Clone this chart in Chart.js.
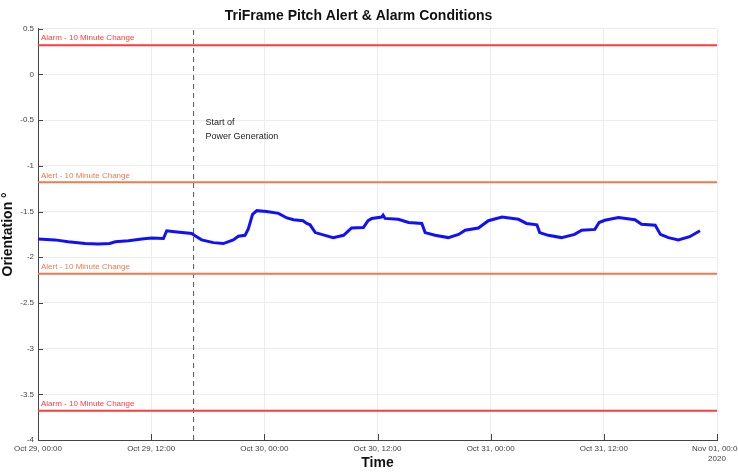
<!DOCTYPE html>
<html>
<head>
<meta charset="utf-8">
<script src="https://cdn.jsdelivr.net/npm/chart.js@4"></script>
<style>
  html, body { margin: 0; padding: 0; background: #fff; }
  #wrap { width: 738px; height: 472px; }
</style>
</head>
<body>
<div id="wrap"><canvas id="chart-0" width="738" height="472"></canvas></div>
<script>
// hours since Oct 29 2020, 00:00
const hours = [0, 1.8, 3.2, 5.0, 6.4, 7.6, 8.2, 9.6, 11.0, 12.05, 13.3, 13.65, 14.5, 16.3, 16.65, 17.35,
  18.6, 19.65, 20.7, 21.25, 21.95, 22.3, 22.75, 23.2, 24.25, 25.5, 26.4, 27.1, 28.1, 28.5, 28.85, 29.4,
  30.25, 31.3, 32.4, 33.25, 34.5, 35.0, 35.4, 36.45, 36.6, 36.8, 38.2, 39.3, 40.7, 41.05, 42.1, 43.5,
  44.6, 45.3, 46.7, 47.75, 49.2, 50.95, 51.8, 52.9, 53.2, 54.1, 55.5, 56.9, 57.65, 59.05, 59.5, 60.1,
  61.55, 63.3, 64.0, 65.45, 66.0, 66.85, 67.9, 69.1, 70.2];
const pitch = [-1.80, -1.81, -1.83, -1.85, -1.855, -1.85, -1.83, -1.82, -1.80, -1.79, -1.795, -1.71, -1.72, -1.74, -1.765, -1.81,
  -1.84, -1.85, -1.81, -1.77, -1.76, -1.69, -1.53, -1.49, -1.50, -1.52, -1.57, -1.59, -1.60, -1.63, -1.645, -1.73,
  -1.755, -1.785, -1.76, -1.68, -1.675, -1.60, -1.575, -1.56, -1.54, -1.575, -1.585, -1.62, -1.63, -1.73, -1.76, -1.785,
  -1.75, -1.705, -1.68, -1.60, -1.56, -1.585, -1.63, -1.645, -1.73, -1.76, -1.785, -1.75, -1.705, -1.695, -1.62, -1.595,
  -1.565, -1.59, -1.64, -1.65, -1.75, -1.785, -1.81, -1.775, -1.71];

const thresholdLabels = ['Alarm - 10 Minute Change', 'Alert - 10 Minute Change', 'Alert - 10 Minute Change', 'Alarm - 10 Minute Change'];
const thresholdValues = [0.32, -1.18, -2.18, -3.68];
const thresholdColors = ['#ff3b3b', '#ef7a4f', '#ef7a4f', '#ff3b3b'];

const startHour = 16.5;
const startLabel = ['Start of', 'Power Generation'];

const xTickLabels = ['Oct 29, 00:00', 'Oct 29, 12:00', 'Oct 30, 00:00', 'Oct 30, 12:00', 'Oct 31, 00:00', 'Oct 31, 12:00', ['Nov 01, 00:00', '2020']];
const xMin = 0, xMax = 72, yMin = -4, yMax = 0.5;

const font = 'Liberation Sans, Arial, sans-serif';

const thresholdSets = thresholdValues.map((v, i) => ({
  label: thresholdLabels[i],
  data: [{x: xMin, y: v}, {x: xMax, y: v}],
  borderColor: thresholdColors[i],
  borderWidth: 2,
  pointRadius: 0
}));

const overlayPlugin = {
  id: 'overlay',
  afterDatasetsDraw(chart) {
    const {ctx, scales: {x, y}, chartArea} = chart;
    ctx.save();
    // threshold captions
    ctx.font = `8px ${font}`;
    ctx.textBaseline = 'bottom';
    ctx.textAlign = 'left';
    thresholdValues.forEach((v, i) => {
      ctx.fillStyle = thresholdColors[i];
      ctx.fillText(thresholdLabels[i], chartArea.left + 3, y.getPixelForValue(v) - 3);
    });
    // start of power generation
    ctx.fillStyle = '#222';
    ctx.font = `9px ${font}`;
    ctx.textBaseline = 'middle';
    startLabel.forEach((t, i) => {
      ctx.fillText(t, x.getPixelForValue(startHour) + 12, y.getPixelForValue(-0.53) + i * 14);
    });
    // inward tick marks (matlab style)
    ctx.strokeStyle = '#444';
    ctx.lineWidth = 1;
    ctx.beginPath();
    for (let v = yMin; v <= yMax + 1e-9; v += 0.5) {
      const py = Math.round(y.getPixelForValue(v)) + 0.5;
      ctx.moveTo(chartArea.left, py);
      ctx.lineTo(chartArea.left + 5, py);
    }
    for (let h = xMin; h <= xMax; h += 12) {
      const px = Math.round(x.getPixelForValue(h)) + 0.5;
      ctx.moveTo(px, chartArea.bottom);
      ctx.lineTo(px, chartArea.bottom - 6);
    }
    ctx.stroke();
    ctx.restore();
  }
};

new Chart(document.getElementById('chart-0').getContext('2d'), {
  type: 'line',
  data: {
    datasets: [
      {
        label: 'Pitch',
        data: hours.map((h, i) => ({x: h, y: pitch[i]})),
        borderColor: '#1010ff',
        borderWidth: 3,
        pointRadius: 0,
        tension: 0
      },
      ...thresholdSets,
      {
        label: 'Start',
        data: [{x: startHour, y: yMin}, {x: startHour, y: yMax}],
        borderColor: '#555',
        borderWidth: 1,
        borderDash: [5, 4],
        pointRadius: 0
      }
    ]
  },
  options: {
    responsive: false,
    animation: false,
    layout: {padding: {left: 0, right: 21, top: 0, bottom: 0}},
    plugins: {
      legend: {display: false},
      tooltip: {enabled: false},
      title: {
        display: true,
        text: 'TriFrame Pitch Alert & Alarm Conditions',
        color: '#111',
        font: {family: font, size: 14, weight: 'bold'},
        padding: {top: 8, bottom: 4}
      }
    },
    scales: {
      x: {
        type: 'linear',
        min: xMin,
        max: xMax,
        afterFit(scale) { scale.height = 32; scale.paddingLeft = 0; scale.paddingRight = 0; },
        afterBuildTicks(scale) {
          scale.ticks = xTickLabels.map((_, i) => ({value: i * 12}));
        },
        ticks: {
          color: '#444',
          font: {family: font, size: 8},
          maxRotation: 0,
          padding: 4,
          callback: (v) => xTickLabels[Math.round(v / 12)]
        },
        grid: {color: '#ececec', drawTicks: false},
        border: {color: '#444'},
        title: {
          display: true,
          text: 'Time',
          color: '#111',
          font: {family: font, size: 14, weight: 'bold'},
          padding: {top: 0, bottom: 0}
        }
      },
      y: {
        min: yMin,
        max: yMax,
        afterFit(scale) { scale.width = 38; },
        ticks: {
          stepSize: 0.5,
          color: '#444',
          font: {family: font, size: 8},
          padding: 4,
          callback: (v) => String(v)
        },
        grid: {color: '#ececec', drawTicks: false},
        border: {color: '#444'},
        title: {
          display: true,
          text: 'Orientation °',
          color: '#111',
          font: {family: font, size: 14, weight: 'bold'},
          padding: 0
        }
      }
    }
  },
  plugins: [overlayPlugin]
});
</script>
</body>
</html>
